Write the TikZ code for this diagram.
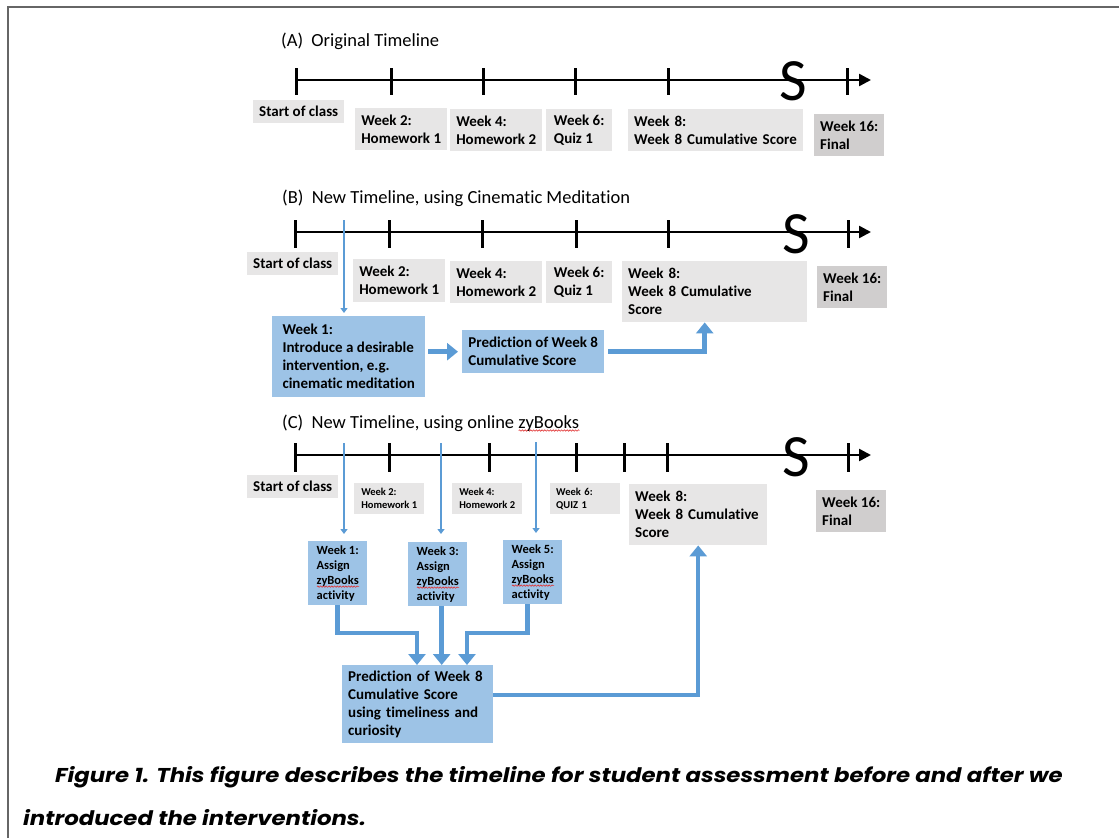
\documentclass[tikz,border=0pt]{standalone}
\usepackage{fontspec}
\setmainfont[Ligatures=NoCommon]{Carlito}
\newfontfamily\capfont[FakeStretch=1.14]{Poppins}
\usetikzlibrary{arrows.meta,decorations.pathmorphing}

\definecolor{boxgray}{HTML}{E7E6E6}
\definecolor{finalgray}{HTML}{D0CECE}
\definecolor{boxblue}{HTML}{9DC3E6}
\definecolor{arrowblue}{HTML}{5B9BD5}
\definecolor{framegray}{HTML}{666666}
\definecolor{spellred}{HTML}{E03030}

% red spell-check wave under a word
\newsavebox{\spellbox}
\newcommand{\spell}[1]{\sbox{\spellbox}{#1}\mbox{\rlap{\tikz[baseline=0pt]\draw[spellred, line width=0.6pt, decorate, decoration={snake, amplitude=0.7pt, segment length=2.8pt}] (0pt,-2.5pt) -- (\the\wd\spellbox,-2.5pt);}\usebox{\spellbox}}}

\tikzset{
	label box/.style={anchor=north west, align=left, inner xsep=6pt, inner ysep=2pt, font=\fontsize{15}{18}\selectfont\bfseries},
	gray box/.style={label box, fill=boxgray},
	final box/.style={label box, fill=finalgray},
	blue box/.style={label box, fill=boxblue},
	small box/.style={gray box, font=\fontsize{10.5}{13}\selectfont\bfseries},
	assign box/.style={blue box, inner xsep=5pt, font=\fontsize{12.5}{15}\selectfont\bfseries},
	title text/.style={anchor=west, inner sep=0pt, font=\fontsize{18.5}{22}\selectfont},
	caption text/.style={anchor=base west, inner sep=0pt, font=\capfont\bfseries\itshape\fontsize{20}{24}\selectfont},
	time axis/.style={line width=2.5pt, -{Triangle[length=12pt,width=12pt]}},
	tickmark/.style={line width=3pt},
	cutmark/.style={inner sep=0pt, font=\fontsize{60}{60}\selectfont},
	weekarrow/.style={arrowblue, line width=2.5pt, -{Triangle[length=5pt,width=7pt]}},
	flow/.style={arrowblue, line width=4.5pt, -{Triangle[length=11pt,width=17pt]}}
}

\begin{document}
\begin{tikzpicture}[x=1pt, y=-1pt]
	\useasboundingbox (0,0) rectangle (1119,838);
	\draw[framegray, line width=2pt] (8,838) -- (8,7) -- (1119,7);

	% (A)
	\node[title text] (titleA) at (281,41) {(A)\ \ Original Timeline};
	\draw[time axis] (296,80) -- (871,80);
	\foreach \x in {296,391,483,575,668,847}
		\draw[tickmark] (\x,68) -- (\x,95);
	\node[cutmark] (cutA) at (793,81) {S};
	\node[gray box, minimum width=90pt, minimum height=23pt] (startA) at (253,100) {Start of class};
	\node[gray box, minimum width=92pt, minimum height=42pt] (wk2A) at (355,108) {Week 2:\\Homework 1};
	\node[gray box, minimum width=92pt, minimum height=42pt] (wk4A) at (450,109) {Week 4:\\Homework 2};
	\node[gray box, minimum width=66pt, minimum height=42pt] (wk6A) at (546,109) {Week 6:\\Quiz 1};
	\node[gray box, text width=163pt, minimum height=42pt] (wk8A) at (628,109) {Week 8:\\Week 8 Cumulative Score};
	\node[final box, minimum width=70pt, minimum height=42pt] (wk16A) at (814,114) {Week 16:\\Final};

	% (B)
	\node[title text] (titleB) at (282,198) {(B)\ \ New Timeline, using Cinematic Meditation};
	\draw[time axis] (295,232) -- (871,232);
	\foreach \x in {295,389,482,576,668,848}
		\draw[tickmark] (\x,220) -- (\x,248);
	\node[cutmark] (cutB) at (796,234) {S};
	\node[gray box, minimum width=90pt, minimum height=23pt] (startB) at (247,252) {Start of class};
	\node[gray box, minimum width=92pt, minimum height=43pt] (wk2B) at (353,259) {Week 2:\\Homework 1};
	\node[gray box, minimum width=92pt, minimum height=42pt] (wk4B) at (450,261) {Week 4:\\Homework 2};
	\node[gray box, minimum width=66pt, minimum height=42pt] (wk6B) at (546,261) {Week 6:\\Quiz 1};
	\node[gray box, text width=173pt, minimum height=61pt] (wk8B) at (622,261) {Week 8:\\Week 8 Cumulative\\Score};
	\node[final box, minimum width=70pt, minimum height=42pt] (wk16B) at (817,266) {Week 16:\\Final};
	\node[blue box, minimum width=153pt, minimum height=81pt] (introB) at (272,316) {Week 1:\\Introduce a desirable\\intervention, e.g.\\cinematic meditation};
	\node[blue box, minimum width=142pt, minimum height=43pt] (predB) at (462,330) {Prediction of Week 8\\Cumulative Score};
	\coordinate (wk1B) at (344,220);
	\draw[weekarrow, shorten >=3pt] (wk1B) -- (wk1B |- introB.north);
	\draw[flow, shorten <=3pt, shorten >=4pt] (introB.east |- predB.west) -- (predB.west);
	\draw[flow, shorten <=4pt] (predB.east) -| ([xshift=-10pt]wk8B.south);

	% (C)
	\node[title text] (titleC) at (282,423) {(C)\ \ New Timeline, using online \spell{zyBooks}};
	\draw[time axis] (295,455) -- (871,455);
	\foreach \x in {295,389,489,576,624,667,848}
		\draw[tickmark] (\x,443) -- (\x,472);
	\node[cutmark] (cutC) at (796,457) {S};
	\node[gray box, minimum width=90pt, minimum height=23pt] (startC) at (247,475) {Start of class};
	\node[small box, minimum width=70pt, minimum height=31pt] (wk2C) at (354,483) {Week 2:\\Homework 1};
	\node[small box, minimum width=70pt, minimum height=31pt] (wk4C) at (452,483) {Week 4:\\Homework 2};
	\node[small box, text width=58pt, minimum height=31pt] (wk6C) at (550,483) {Week 6:\\QUIZ 1};
	\node[gray box, text width=126pt, minimum height=61pt] (wk8C) at (629,484) {Week 8:\\Week 8 Cumulative\\Score};
	\node[final box, minimum width=70pt, minimum height=42pt] (wk16C) at (816,490) {Week 16:\\Final};
	\node[assign box, minimum width=59pt, minimum height=64pt] (asg1) at (308,541) {Week 1:\\Assign\\\spell{zyBooks}\\activity};
	\node[assign box, minimum width=59pt, minimum height=64pt] (asg3) at (408,542) {Week 3:\\Assign\\\spell{zyBooks}\\activity};
	\node[assign box, minimum width=59pt, minimum height=64pt] (asg5) at (503,540) {Week 5:\\Assign\\\spell{zyBooks}\\activity};
	\node[blue box, text width=139pt, minimum height=78pt] (predC) at (342,665) {Prediction of Week 8\\Cumulative Score\\using timeliness and\\curiosity};
	\coordinate (wk1C) at (344,443);
	\coordinate (wk3C) at (441,443);
	\coordinate (wk5C) at (536,442);
	\draw[weekarrow, shorten >=7pt] (wk1C) -- (wk1C |- asg1.north);
	\draw[weekarrow, shorten >=8pt] (wk3C) -- (wk3C |- asg3.north);
	\draw[weekarrow, shorten >=7pt] (wk5C) -- (wk5C |- asg5.north);
	\coordinate (join1) at (417,633);
	\coordinate (join5) at (467,633);
	\draw[flow] (asg1.south) |- (join1) -- (join1 |- predC.north);
	\draw[flow] ([xshift=4pt]asg3.south) -- ([xshift=4pt]asg3.south |- predC.north);
	\draw[flow] ([xshift=-5pt]asg5.south) |- (join5) -- (join5 |- predC.north);
	\draw[flow] ([yshift=9pt]predC.east) -| (wk8C.south);

	% caption
	\node[caption text] (capline1) at (55,782) {Figure 1. This figure describes the timeline for student assessment before and after we};
	\node[caption text] (capline2) at (23,825) {introduced the interventions.};
\end{tikzpicture}
\end{document}
